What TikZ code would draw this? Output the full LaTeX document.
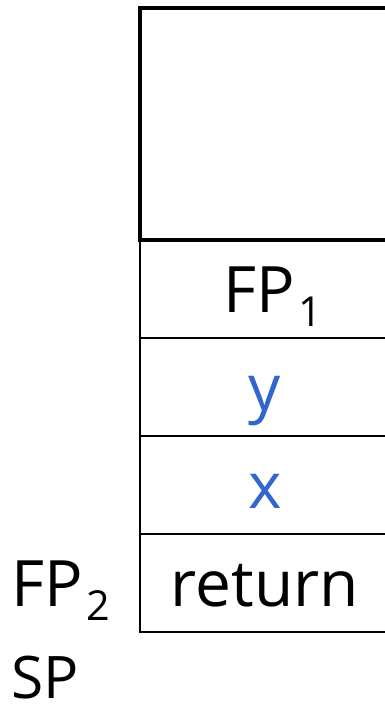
\documentclass[tikz,border=0pt]{standalone}
\usepackage{fontspec}
\setmainfont{Open Sans}
\usetikzlibrary{positioning}
\definecolor{varblue}{RGB}{51,102,204}
\newcommand{\subidx}[1]{\kern3pt\raisebox{-11pt}{\fontsize{31}{31}\selectfont #1}}

\begin{document}
\begin{tikzpicture}[x=0.75pt, y=-0.75pt, node distance=0pt,
    frame/.style = {draw, line width=3pt, minimum width=187.5pt, minimum height=174pt, outer sep=0pt},
    cell/.style = {draw, line width=1.5pt, minimum width=187.5pt, minimum height=73.5pt, outer sep=0pt,
        inner sep=0pt, text height=40pt, text depth=5.5pt, font=\fontsize{48}{48}\selectfont},
    lbl/.style = {inner sep=0pt, font=\fontsize{48}{48}\selectfont}]
    \useasboundingbox (0,0) rectangle (385,707);
    \clip (0,0) rectangle (385,707);

    \node[frame] (top) at (265,124) {};
    \node[cell, below=of top, xshift=0pt] (fp1) {\kern12pt FP\subidx{1}};
    \node[cell, below=of fp1, text=varblue] (y) {y};
    \node[cell, below=of y, text=varblue] (x) {x};
    \node[cell, below=of x] (ret) {return};

    \node[lbl, base left=22pt of ret.base west] (fp2) {FP\subidx{2}};
    \node[lbl, anchor=base west, font=\fontsize{44}{44}\selectfont] (sp) at ([yshift=-69pt]fp2.base west) {SP};
\end{tikzpicture}
\end{document}
